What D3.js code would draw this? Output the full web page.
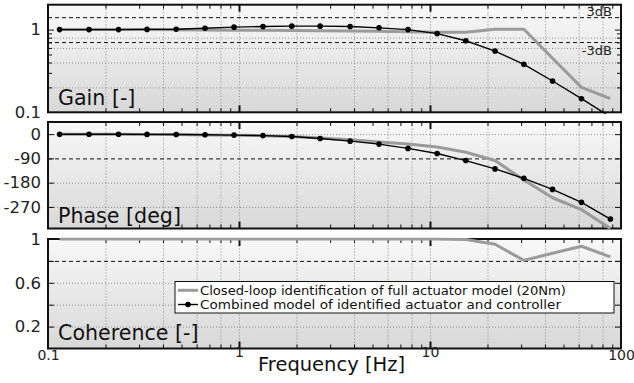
<!DOCTYPE html>
<html><head><meta charset="utf-8">
<script src="https://cdn.jsdelivr.net/npm/d3@7"></script>
<style>
html,body{margin:0;padding:0;background:#fff;}
svg{display:block;font-family:"DejaVu Sans",Verdana,sans-serif;}
</style></head><body>
<svg id="chart" width="634" height="383"></svg>
<script>
// Frequency points of the identification (Hz)
const freq = [0.115,0.164,0.234,0.33,0.469,0.664,0.942,1.335,1.89,2.66,3.82,5.41,7.67,10.9,15.4,21.9,31.0,43.8,62.1,88.0];
// Closed-loop identification of the full actuator model (20Nm)
const gainMeasured  = [1,1,1,1,0.995,0.99,0.985,0.98,0.975,0.97,0.965,0.955,0.94,0.93,0.93,1.01,1.01,0.45,0.2,0.146];
const phaseMeasured = [-0.3,-0.5,-0.8,-1.2,-1.8,-2.8,-4,-6,-9,-14,-21,-29,-37,-48,-67,-98,-170,-236,-280,-350];
const coherenceMeasured = [1,1,1,1,1,1,1,1,1,1,1,1,1,1,0.995,0.952,0.805,0.87,0.934,0.837];
// Combined model of identified actuator and controller
const gainModel  = [1,1,1,1.005,1.01,1.04,1.07,1.09,1.1,1.1,1.09,1.05,1.0,0.894,0.733,0.55,0.38,0.239,0.146,0.088];
const phaseModel = [-0.3,-0.5,-0.7,-1,-1.5,-2.3,-3.5,-5.5,-9,-16,-26,-37,-53,-72,-98,-129,-164,-205,-253,-315];

const legendLabels = ["Closed-loop identification of full actuator model (20Nm)",
                      "Combined model of identified actuator and controller"];
const xTickValues = [0.1, 1, 10, 100];
const xTickLabels = ["0.1", "1", "10", "100"];
const xGridValues = [0.2,0.4,0.6,0.8,1,2,4,6,8,10,20,40,60,80];
const xMinorTicks = [0.2,0.3,0.4,0.5,0.6,0.7,0.8,0.9,2,3,4,5,6,7,8,9,20,30,40,50,60,70,80,90];
const xMajorTicks = [1, 10];

const svg = d3.select("#chart");
const X0 = 48, X1 = 621;
const x = d3.scaleLog().domain([0.1, 100]).range([X0, X1]);

const defs = svg.append("defs");
const grad = defs.append("linearGradient").attr("id","bg").attr("x1",0).attr("y1",0).attr("x2",0).attr("y2",1);
grad.append("stop").attr("offset","0%").attr("stop-color","#f8f8f8");
grad.append("stop").attr("offset","100%").attr("stop-color","#d8d8d8");

const panels = [
  { key:"gain", label:"Gain [-]", top:4.7, bottom:112.3,
    y: d3.scaleLog().domain([0.1, 2]),
    labelTicks:[0.1, 1], labelFmt:d => d === 1 ? "1" : "0.1",
    grid:[0.2,0.4,0.6,0.8], dashed:[Math.SQRT2, Math.SQRT1_2],
    yMinor:[0.2,0.3,0.4,0.5,0.6,0.7,0.8,0.9], yMajor:[1],
    measured:gainMeasured, model:gainModel, labelBase:104.5 },
  { key:"phase", label:"Phase [deg]", top:122, bottom:228.5,
    y: d3.scaleLinear().domain([-350, 45]),
    labelTicks:[0,-90,-180,-270], labelFmt:d => String(d),
    grid:[0,-180,-270], dashed:[-90],
    yMinor:[], yMajor:[0,-90,-180,-270],
    measured:phaseMeasured, model:phaseModel, labelBase:222.5 },
  { key:"coh", label:"Coherence [-]", top:239, bottom:348.5,
    y: d3.scaleLinear().domain([0, 1]),
    labelTicks:[1, 0.6, 0.2], labelFmt:d => String(d),
    grid:[0.2,0.4,0.6], dashed:[0.8],
    yMinor:[], yMajor:[0.2,0.4,0.6,0.8],
    measured:coherenceMeasured, model:null, labelBase:340 }
];

panels.forEach(p => {
  p.y.range([p.bottom, p.top]);
  const h = p.bottom - p.top, w = X1 - X0;
  const g = svg.append("g").attr("class", "panel-" + p.key);
  const clipId = "clip-" + p.key;
  defs.append("clipPath").attr("id", clipId)
    .append("rect").attr("x", X0).attr("y", p.top - 1.5).attr("width", w).attr("height", h + 3);

  g.append("rect").attr("x", X0).attr("y", p.top).attr("width", w).attr("height", h)
    .attr("fill", "url(#bg)");

  const dotted = a => { a.select(".domain").remove();
    a.selectAll("line").attr("stroke","#8f8f8f").attr("stroke-width",1).attr("stroke-dasharray","1,2"); };
  // vertical dotted grid
  g.append("g").attr("transform", `translate(0,${p.bottom})`)
    .call(d3.axisBottom(x).tickValues(xGridValues).tickSize(-h).tickFormat("")).call(dotted);
  // horizontal dotted grid
  g.append("g").attr("transform", `translate(${X0},0)`)
    .call(d3.axisLeft(p.y).tickValues(p.grid).tickSize(-w).tickFormat("")).call(dotted);
  // dashed reference lines
  g.append("g").attr("transform", `translate(${X0},0)`)
    .call(d3.axisLeft(p.y).tickValues(p.dashed).tickSize(-w).tickFormat(""))
    .call(a => { a.select(".domain").remove();
      a.selectAll("line").attr("stroke","#111").attr("stroke-width",1).attr("stroke-dasharray","4,3"); });

  // inward ticks on all four sides
  const tickStyle = sw => a => { a.select(".domain").remove();
    a.selectAll("line").attr("stroke","#111").attr("stroke-width",sw); };
  g.append("g").attr("transform", `translate(0,${p.bottom})`)
    .call(d3.axisBottom(x).tickValues(xMinorTicks).tickSize(-4).tickFormat("")).call(tickStyle(1));
  g.append("g").attr("transform", `translate(0,${p.bottom})`)
    .call(d3.axisBottom(x).tickValues(xMajorTicks).tickSize(-7).tickFormat("")).call(tickStyle(2));
  g.append("g").attr("transform", `translate(0,${p.top})`)
    .call(d3.axisTop(x).tickValues(xMinorTicks).tickSize(-4).tickFormat("")).call(tickStyle(1));
  g.append("g").attr("transform", `translate(0,${p.top})`)
    .call(d3.axisTop(x).tickValues(xMajorTicks).tickSize(-7).tickFormat("")).call(tickStyle(2));
  [[d3.axisLeft, X0], [d3.axisRight, X1]].forEach(([ax, pos]) => {
    g.append("g").attr("transform", `translate(${pos},0)`)
      .call(ax(p.y).tickValues(p.yMinor).tickSize(-4).tickFormat("")).call(tickStyle(1));
    g.append("g").attr("transform", `translate(${pos},0)`)
      .call(ax(p.y).tickValues(p.yMajor).tickSize(-6).tickFormat("")).call(tickStyle(1));
  });

  // frame
  g.append("rect").attr("x", X0).attr("y", p.top).attr("width", w).attr("height", h)
    .attr("fill","none").attr("stroke","#111").attr("stroke-width",2);

  // series
  const data = freq.map((f, i) => ({ f, m: p.measured[i], c: p.model ? p.model[i] : null }));
  const plot = g.append("g").attr("clip-path", `url(#${clipId})`);
  plot.append("path").datum(data)
    .attr("d", d3.line().x(d => x(d.f)).y(d => p.y(d.m)))
    .attr("fill","none").attr("stroke","#9b9b9b").attr("stroke-width",3).attr("stroke-linejoin","round");
  if (p.model) {
    plot.append("path").datum(data)
      .attr("d", d3.line().x(d => x(d.f)).y(d => p.y(d.c)))
      .attr("fill","none").attr("stroke","#000").attr("stroke-width",1.4);
    plot.selectAll("circle").data(data.filter(d => d.c >= p.y.domain()[0])).join("circle")
      .attr("cx", d => x(d.f)).attr("cy", d => p.y(d.c)).attr("r", 2.8).attr("fill","#000");
  }

  // y tick labels
  g.append("g").attr("transform", `translate(${X0 - 4},0)`)
    .call(d3.axisLeft(p.y).tickValues(p.labelTicks).tickSize(0).tickFormat(p.labelFmt))
    .call(a => { a.select(".domain").remove();
      a.selectAll("text").attr("font-size",16.5).attr("fill","#222")
        .attr("font-family","DejaVu Sans, sans-serif"); });

  // panel title
  g.append("text").attr("x", 58).attr("y", p.labelBase).attr("font-size", 20.6)
    .attr("fill","#111").text(p.label);
});

// dB markers in the gain panel
const gainPanel = panels[0];
svg.append("text").attr("x", 612).attr("y", gainPanel.y(Math.SQRT2) - 1.5).attr("text-anchor","end")
  .attr("font-size", 13).attr("fill","#222").text("3dB");
svg.append("text").attr("x", 612).attr("y", gainPanel.y(Math.SQRT1_2) + 12.5).attr("text-anchor","end")
  .attr("font-size", 13).attr("fill","#222").text("-3dB");

// frequency axis labels (decades 1 and 10 sit slightly higher)
svg.append("g")
  .call(d3.axisBottom(x).tickValues(xTickValues).tickSize(0).tickFormat((d, i) => xTickLabels[i]))
  .call(a => { a.select(".domain").remove();
    a.selectAll("text").attr("font-size",14).attr("fill","#222")
      .attr("font-family","DejaVu Sans, sans-serif")
      .attr("dy", 0).attr("y", d => (d === 1 || d === 10) ? 357 : 360); });
svg.append("text").attr("x", 258).attr("y", 371).attr("font-size", 19.5).attr("fill","#111")
  .text("Frequency [Hz]");

// legend
const lg = svg.append("g");
lg.append("rect").attr("x",175).attr("y",281.5).attr("width",439).attr("height",31.5)
  .attr("fill","#fff").attr("stroke","#111").attr("stroke-width",1);
const ly = [290.3, 304.5];
lg.append("line").attr("x1",178).attr("x2",198).attr("y1",ly[0]).attr("y2",ly[0])
  .attr("stroke","#9b9b9b").attr("stroke-width",3);
lg.append("line").attr("x1",178).attr("x2",198).attr("y1",ly[1]).attr("y2",ly[1])
  .attr("stroke","#000").attr("stroke-width",1.4);
lg.append("circle").attr("cx",188).attr("cy",ly[1]).attr("r",2.8).attr("fill","#000");
const legendWidths = [366, 361];
legendLabels.forEach((t, i) => {
  lg.append("text").attr("x",200).attr("y",ly[i]).attr("dy","0.36em")
    .attr("font-size",12.2).attr("fill","#111")
    .attr("textLength", legendWidths[i]).attr("lengthAdjust","spacingAndGlyphs").text(t);
});
</script>
</body></html>
